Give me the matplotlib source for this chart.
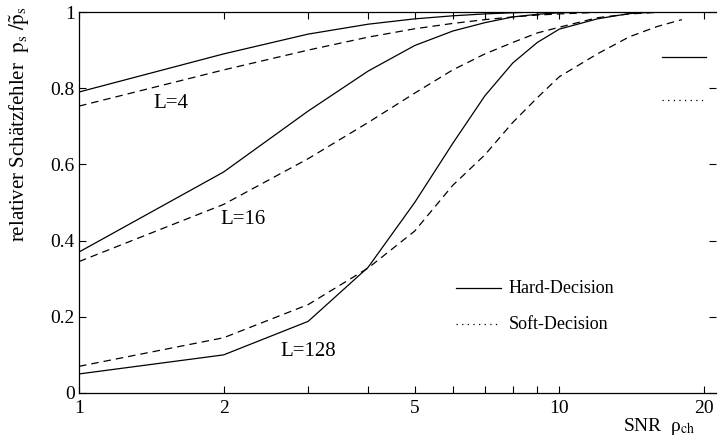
import matplotlib
matplotlib.use("Agg")
import matplotlib.pyplot as plt
import numpy as np

plt.rcParams['font.family'] = ['Liberation Serif', 'DejaVu Serif']
plt.rcParams['mathtext.fontset'] = 'stix'

# SNR values
snr = [1, 2, 3, 4, 5, 6, 7, 8, 9, 10, 12, 14, 16, 18]

# Hard-decision (solid)
hard_L4 = [0.79, 0.89, 0.942, 0.968, 0.982, 0.99, 0.995, 0.998, 1.0, 1.0, 1.0, 1.0, 1.0, 1.0]
hard_L16 = [0.37, 0.58, 0.74, 0.845, 0.912, 0.95, 0.972, 0.987, 0.994, 0.998, 1.0, 1.0, 1.0, 1.0]
hard_L128 = [0.05, 0.10, 0.188, 0.33, 0.50, 0.655, 0.78, 0.866, 0.92, 0.955, 0.982, 0.996, 1.0, 1.0]

# Soft-decision (dashed)
soft_L4 = [0.753, 0.848, 0.90, 0.934, 0.956, 0.97, 0.98, 0.987, 0.992, 0.995, 0.999, 1.0, 1.0, 1.0]
soft_L16 = [0.345, 0.495, 0.615, 0.71, 0.787, 0.848, 0.89, 0.92, 0.945, 0.96, 0.985, 0.995, 0.999, 1.0]
soft_L128 = [0.07, 0.145, 0.232, 0.328, 0.425, 0.545, 0.625, 0.71, 0.775, 0.83, 0.89, 0.935, 0.962, 0.98]

curve_labels = ["L=4", "L=16", "L=128"]
xtick_vals = [1, 2, 5, 10, 20]
ytick_vals = [0, 0.2, 0.4, 0.6, 0.8, 1]

fig = plt.figure(figsize=(7.19, 4.43), dpi=100)
ax = fig.add_axes([0.1099, 0.1129, 0.8859, 0.86])

lw = 0.9
for y in (hard_L4, hard_L16, hard_L128):
    ax.plot(snr, y, color='black', lw=lw, solid_joinstyle='miter')
for y in (soft_L4, soft_L16, soft_L128):
    ax.plot(snr, y, color='black', lw=lw, dashes=(6, 4))

ax.set_xscale('log')
ax.set_xlim(1, 21.2)
ax.set_ylim(0, 1)

ax.set_xticks(xtick_vals)
ax.set_xticklabels([str(v) for v in xtick_vals])
ax.set_xticks([3, 4, 6, 7, 8, 9], minor=True)
ax.xaxis.set_minor_formatter(matplotlib.ticker.NullFormatter())
ax.set_yticks(ytick_vals)
ax.set_yticklabels(['0', '0.2', '0.4', '0.6', '0.8', '1'])

ax.spines['right'].set_visible(False)
for s in ('left', 'bottom', 'top'):
    ax.spines[s].set_linewidth(0.9)

ax.tick_params(axis='x', which='both', direction='in', top=True, bottom=True,
               length=5, width=0.8, labelsize=14, pad=5)
ax.tick_params(axis='y', which='both', direction='in', left=True, right=True,
               length=5, width=0.8, labelsize=14, pad=3)

# Curve labels
ax.text(1.43, 0.761, curve_labels[0], fontsize=15, ha='left', va='center')
ax.text(1.97, 0.455, curve_labels[1], fontsize=15, ha='left', va='center')
ax.text(2.62, 0.108, curve_labels[2], fontsize=15, ha='left', va='center')

# Legend (manual, in axes coordinates)
ax.plot([0.592, 0.662], [0.275, 0.275], transform=ax.transAxes, color='black', lw=lw)
ax.text(0.674, 0.275, "Hard-Decision", transform=ax.transAxes, fontsize=13, va='center')
ax.plot([0.592, 0.662], [0.18, 0.18], transform=ax.transAxes, color='black', lw=lw,
        linestyle=(0, (1, 3.5)))
ax.text(0.674, 0.18, "Soft-Decision", transform=ax.transAxes, fontsize=13, va='center')

# Partial legend remnants at right
ax.plot([0.915, 0.985], [0.882, 0.882], transform=ax.transAxes, color='black', lw=lw)
ax.plot([0.915, 0.985], [0.77, 0.77], transform=ax.transAxes, color='black', lw=lw,
        linestyle=(0, (1, 3.5)))

# Axis labels
fig.text(0.866, 0.038, "SNR  ρ$_{\\mathrm{ch}}$", fontsize=14, ha='left', va='center')
fig.text(0.028, 0.72,
         r"relativer Schätzfehler  $\mathrm{p_s}\ /\tilde{\mathrm{p}}_\mathrm{s}$",
         fontsize=15, rotation=90, ha='center', va='center')

fig.savefig("out.png", dpi=100)
